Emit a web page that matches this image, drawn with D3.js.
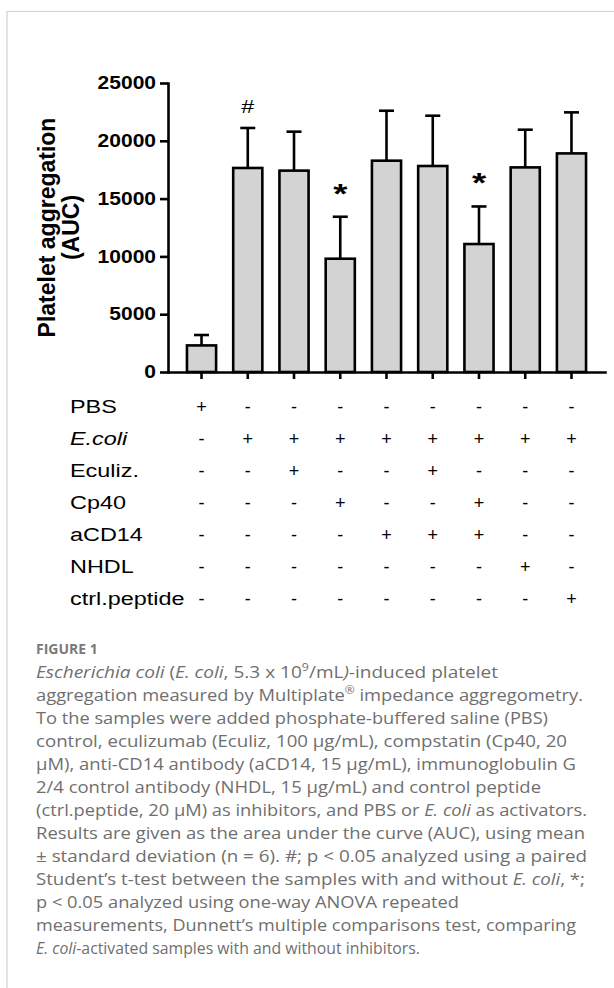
<!DOCTYPE html>
<html>
<head>
<meta charset="utf-8">
<script src="https://cdn.jsdelivr.net/npm/d3@7"></script>
<style>
  body { margin: 0; background: #fff; }
  svg { display: block; }
</style>
</head>
<body>
<div id="figure"></div>
<script>
// Bar groups (one per column of the treatment table)
const groups = ["PBS", "E.coli", "E.coli+Eculiz", "E.coli+Cp40", "E.coli+aCD14",
    "E.coli+aCD14+Eculiz", "E.coli+aCD14+Cp40", "E.coli+NHDL", "E.coli+ctrl.peptide"];
const meanAUC = [2300, 17650, 17420, 9800, 18280, 17820, 11070, 17700, 18910];
const sdAUC = [900, 3460, 3370, 3630, 4320, 4350, 3250, 3260, 3550];
const markers = ["", "#", "", "*", "", "", "*", "", ""];
const yTicks = [0, 5000, 10000, 15000, 20000, 25000];

// Treatment table below the x axis
const rowLabels = ["PBS", "E.coli", "Eculiz.", "Cp40", "aCD14", "NHDL", "ctrl.peptide"];
const rowSigns = [
    ["+", "-", "-", "-", "-", "-", "-", "-", "-"],
    ["-", "+", "+", "+", "+", "+", "+", "+", "+"],
    ["-", "-", "+", "-", "-", "+", "-", "-", "-"],
    ["-", "-", "-", "+", "-", "-", "+", "-", "-"],
    ["-", "-", "-", "-", "+", "+", "+", "-", "-"],
    ["-", "-", "-", "-", "-", "-", "-", "+", "-"],
    ["-", "-", "-", "-", "-", "-", "-", "-", "+"]
];

// Caption, one entry per printed line: [text, style] pieces
const captionTitle = "FIGURE 1";
const captionLines = [
    [["Escherichia coli", "i"], [" (", ""], ["E. coli", "i"], [", 5.3 x 10", ""], ["9", "sup"], ["/mL", ""], [")", "i"], ["-induced platelet", ""]],
    [["aggregation measured by Multiplate", ""], ["®", "sup"], [" impedance aggregometry.", ""]],
    [["To the samples were added phosphate-buffered saline (PBS)", ""]],
    [["control, eculizumab (Eculiz, 100 µg/mL), compstatin (Cp40, 20", ""]],
    [["µM), anti-CD14 antibody (aCD14, 15 µg/mL), immunoglobulin G", ""]],
    [["2/4 control antibody (NHDL, 15 µg/mL) and control peptide", ""]],
    [["(ctrl.peptide, 20 µM) as inhibitors, and PBS or ", ""], ["E. coli", "i"], [" as activators.", ""]],
    [["Results are given as the area under the curve (AUC), using mean", ""]],
    [["± standard deviation (n = 6). #; p < 0.05 analyzed using a paired", ""]],
    [["Student’s t-test between the samples with and without ", ""], ["E. coli", "i"], [", *;", ""]],
    [["p < 0.05 analyzed using one-way ANOVA repeated", ""]],
    [["measurements, Dunnett’s multiple comparisons test, comparing", ""]],
    [["E. coli", "i"], ["-activated samples with and without inhibitors.", ""]]
];
// printed width of each caption line
const captionWidths = [462, 547, 512, 531, 540, 505, 551, 549, 551, 549, 423, 540, 384];


const W = 614, H = 988;
const plot = { left: 168, right: 605, top: 83, bottom: 372 };
const font = "'Liberation Sans', Arial, sans-serif";

// widen text horizontally, the original artwork is stretched
function stretch(sel, k) {
    sel.each(function () {
        const w = this.getComputedTextLength();
        d3.select(this).attr("textLength", w * k).attr("lengthAdjust", "spacingAndGlyphs");
    });
}

const svg = d3.select("#figure")
    .append("svg")
    .attr("width", W)
    .attr("height", H);

svg.append("rect").attr("width", W).attr("height", H).attr("fill", "#fff");

// frame of the figure box
svg.append("path")
    .attr("d", `M7,${H} V11.5 H${W}`)
    .attr("fill", "none")
    .attr("stroke", "#d2d2d2")
    .attr("stroke-width", 1.2);

// Scales
const x = d3.scaleBand()
    .domain(groups)
    .range([plot.left, plot.right])
    .paddingInner(0.37)
    .paddingOuter(0.41);

const y = d3.scaleLinear()
    .domain([0, 25000])
    .range([plot.bottom, plot.top]);

const cx = d => x(d) + x.bandwidth() / 2;

// Bars
svg.append("g")
    .selectAll("rect")
    .data(groups)
    .enter().append("rect")
    .attr("x", d => x(d))
    .attr("y", (d, i) => y(meanAUC[i]))
    .attr("width", x.bandwidth())
    .attr("height", (d, i) => y(0) - y(meanAUC[i]))
    .attr("fill", "#d3d3d3")
    .attr("stroke", "#000")
    .attr("stroke-width", 2.6);

// Error bars (mean + SD only)
const err = svg.append("g")
    .attr("stroke", "#000")
    .attr("stroke-width", 2.6);

err.selectAll("line.stem")
    .data(groups)
    .enter().append("line")
    .attr("class", "stem")
    .attr("x1", d => cx(d))
    .attr("x2", d => cx(d))
    .attr("y1", (d, i) => y(meanAUC[i]))
    .attr("y2", (d, i) => y(meanAUC[i] + sdAUC[i]));

err.selectAll("line.cap")
    .data(groups)
    .enter().append("line")
    .attr("class", "cap")
    .attr("x1", d => cx(d) - 7.5)
    .attr("x2", d => cx(d) + 7.5)
    .attr("y1", (d, i) => y(meanAUC[i] + sdAUC[i]))
    .attr("y2", (d, i) => y(meanAUC[i] + sdAUC[i]));

// Significance markers
svg.append("g")
    .selectAll("text")
    .data(groups.filter((d, i) => markers[i] !== ""))
    .enter().append("text")
    .attr("x", d => cx(d))
    .attr("y", d => {
        const i = groups.indexOf(d);
        return y(meanAUC[i] + sdAUC[i]) - (markers[i] === "#" ? 15 : 14);
    })
    .attr("text-anchor", "middle")
    .style("font-family", font)
    .style("font-weight", d => markers[groups.indexOf(d)] === "*" ? "bold" : "normal")
    .style("font-size", d => markers[groups.indexOf(d)] === "*" ? "28px" : "18px")
    .text(d => markers[groups.indexOf(d)])
    .call(stretch, 1.3);

// Y axis
const yAxis = svg.append("g")
    .attr("class", "y axis")
    .attr("transform", `translate(${plot.left},0)`)
    .call(d3.axisLeft(y).tickValues(yTicks).tickFormat(d3.format("d"))
        .tickSize(8).tickSizeOuter(0).tickPadding(4));

// X axis (ticks only, labels come from the table)
const xAxis = svg.append("g")
    .attr("class", "x axis")
    .attr("transform", `translate(0,${plot.bottom})`)
    .call(d3.axisBottom(x).tickSize(7).tickSizeOuter(0).tickFormat(""));

svg.selectAll(".axis path, .axis line")
    .attr("stroke", "#000")
    .attr("stroke-width", 2.6);
svg.selectAll(".axis path").attr("stroke-linecap", "square");

yAxis.selectAll("text")
    .attr("fill", "#000")
    .style("font-family", font)
    .style("font-weight", "bold")
    .style("font-size", "17.5px")
    .call(stretch, 1.2);

// Y axis title
const yTitle = svg.append("text")
    .attr("transform", "rotate(-90)")
    .attr("text-anchor", "middle")
    .style("font-family", font)
    .style("font-weight", "bold")
    .style("font-size", "23px");
yTitle.append("tspan")
    .attr("x", -(plot.top + plot.bottom) / 2)
    .attr("y", 55)
    .text("Platelet aggregation");
yTitle.append("tspan")
    .attr("x", -(plot.top + plot.bottom) / 2)
    .attr("y", 79)
    .text("(AUC)");

// Treatment table
const rowY = i => 413 + 32 * i;

svg.append("g")
    .selectAll("text")
    .data(rowLabels)
    .enter().append("text")
    .attr("x", 70)
    .attr("y", (d, i) => rowY(i))
    .style("font-family", font)
    .style("font-size", "18px")
    .style("font-style", d => d === "E.coli" ? "italic" : "normal")
    .text(d => d)
    .call(stretch, 1.3);

const signRows = svg.append("g")
    .selectAll("g")
    .data(rowSigns)
    .enter().append("g");

signRows.selectAll("text")
    .data((row, r) => row.map((s, c) => ({ s: s, r: r, c: c })))
    .enter().append("text")
    .attr("x", d => cx(groups[d.c]))
    .attr("y", d => rowY(d.r))
    .attr("text-anchor", "middle")
    .style("font-family", font)
    .style("font-size", "18px")
    .text(d => d.s);

// Caption
const cap = svg.append("g")
    .style("font-family", "'Open Sans', sans-serif")
    .attr("fill", "#6f6f6f");

cap.append("text")
    .attr("x", 36)
    .attr("y", 654)
    .style("font-size", "14px")
    .style("font-weight", "bold")
    .attr("fill", "#7a7a7a")
    .text(captionTitle);

captionLines.forEach((line, li) => {
    const t = cap.append("text")
        .attr("x", 36)
        .attr("y", 678 + 23 * li)
        .style("font-size", "17px");
    line.forEach(([txt, st]) => {
        const sp = t.append("tspan").text(txt);
        if (st === "i") sp.style("font-style", "italic");
        if (st === "sup") sp.attr("baseline-shift", "super").style("font-size", "11px");
    });
    t.attr("textLength", captionWidths[li]).attr("lengthAdjust", "spacingAndGlyphs");
});
</script>
</body>
</html>
